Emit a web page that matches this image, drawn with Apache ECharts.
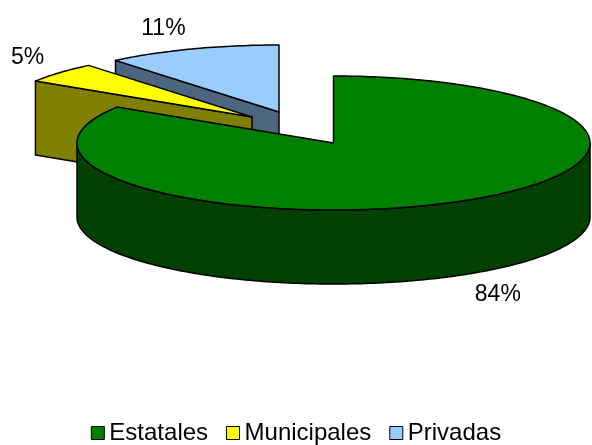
<!DOCTYPE html>
<html>
<head>
<meta charset="utf-8">
<script src="https://cdn.jsdelivr.net/npm/echarts@6/dist/echarts.min.js"></script>
<style>
  html, body { margin: 0; padding: 0; background: #fff; }
  #chart { width: 592px; height: 445px; }
</style>
</head>
<body>
<div id="chart"></div>
<script>
// 数据
const categories = ['Estatales', 'Municipales', 'Privadas'];
const values = [84, 5, 11];

// 样式
const topColors = ['#008000', '#ffff00', '#99ccff'];
const sideColors = ['#004000', '#808000', '#4c667f'];
const explode = [[0, 0], [-81.5, -26], [-54.5, -31]]; // 分离偏移 px
const pie = { cx: 333.5, cy: 143, rx: 256.5, ry: 67, depth: 74 };
const labelK = 1.33;
const labelMargin = 11;
const FONT = '"Liberation Sans", Arial, sans-serif';

const total = values.reduce((a, b) => a + b, 0);

// 每块的起止角度 (从12点顺时针, 度)
function sliceAngles(i) {
  let before = 0;
  for (let j = 0; j < i; j++) before += values[j];
  return [before / total * 360, (before + values[i]) / total * 360];
}

function rad(deg) { return deg * Math.PI / 180; }

function renderSlice(params, api) {
  const idx = categories.indexOf(params.seriesName);
  const [a0, a1] = sliceAngles(idx);
  const ox = pie.cx + explode[idx][0];
  const oy = pie.cy + explode[idx][1];
  const d = pie.depth;

  const pt = (deg, k = 1, dy = 0) =>
    [ox + pie.rx * k * Math.sin(rad(deg)), oy - pie.ry * k * Math.cos(rad(deg)) + dy];
  const arc = (from, to, dy) => {
    const pts = [];
    const n = Math.max(2, Math.ceil(to - from));
    for (let i = 0; i <= n; i++) pts.push(pt(from + (to - from) * i / n, 1, dy));
    return pts;
  };
  const edge = { stroke: '#000', lineWidth: 1.5, lineJoin: 'round' };
  const children = [];

  // 切面
  const face = deg => ({
    type: 'polygon',
    shape: { points: [[ox, oy], pt(deg), pt(deg, 1, d), [ox, oy + d]] },
    style: Object.assign({ fill: sideColors[idx] }, edge)
  });
  if (Math.sin(rad(a0)) < -1e-6) children.push(face(a0));
  if (Math.sin(rad(a1)) > 1e-6) children.push(face(a1));

  // 前侧弧面
  const w0 = Math.max(a0, 90), w1 = Math.min(a1, 270);
  if (w1 > w0) {
    children.push({
      type: 'polygon',
      shape: { points: arc(w0, w1, 0).concat(arc(w0, w1, d).reverse()) },
      style: Object.assign({ fill: sideColors[idx] }, edge)
    });
  }

  // 顶面
  children.push({
    type: 'polygon',
    shape: { points: [[ox, oy]].concat(arc(a0, a1, 0)) },
    style: Object.assign({ fill: topColors[idx] }, edge)
  });

  // 标签
  const mid = (a0 + a1) / 2;
  const text = Math.round(api.value(0) / total * 100) + '%';
  const fs = 23;
  const tw = ((text.length - 1) * 0.556 + 0.889) * fs;
  let [lx, ly] = pt(mid, labelK, Math.cos(rad(mid)) < 0 ? d : 0);
  lx = Math.min(Math.max(lx, labelMargin + tw / 2), api.getWidth() - labelMargin - tw / 2);
  children.push({
    type: 'text',
    x: lx,
    y: ly,
    style: { text: text, fill: '#000', fontSize: fs, fontFamily: FONT, align: 'center', verticalAlign: 'middle' }
  });

  return { type: 'group', children: children };
}

// 由后往前绘制
const order = categories.map((c, i) => i).sort((i, j) => {
  const mi = sliceAngles(i), mj = sliceAngles(j);
  return -Math.cos(rad((mi[0] + mi[1]) / 2)) + Math.cos(rad((mj[0] + mj[1]) / 2));
});

const chart = echarts.init(document.getElementById('chart'), null, { renderer: 'canvas' });
chart.setOption({
  backgroundColor: '#fff',
  animation: false,
  legend: {
    data: categories,
    left: 'center',
    top: 416,
    icon: 'rect',
    itemWidth: 13,
    itemHeight: 13,
    itemGap: 18,
    itemStyle: { borderColor: '#000', borderWidth: 1 },
    textStyle: { fontSize: 24, fontFamily: FONT, color: '#000' }
  },
  series: order.map(i => ({
    type: 'custom',
    name: categories[i],
    coordinateSystem: 'none',
    silent: true,
    itemStyle: { color: topColors[i] },
    renderItem: renderSlice,
    data: [[values[i]]]
  }))
});
</script>
</body>
</html>
